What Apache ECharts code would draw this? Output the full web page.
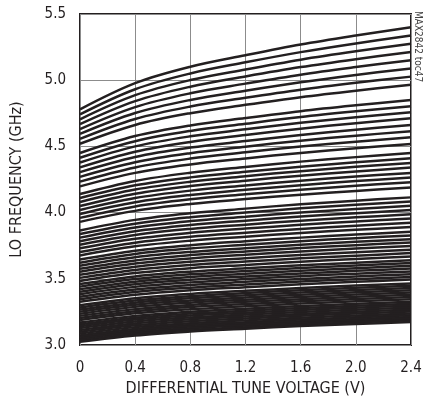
<!DOCTYPE html>
<html>
<head>
<meta charset="utf-8">
<script src="https://cdn.jsdelivr.net/npm/echarts@6/dist/echarts.min.js"></script>
<style>
html,body{margin:0;padding:0;background:#fff;}
#chart{width:425px;height:407px;}
</style>
</head>
<body>
<div id="chart"></div>
<script>
// Tune voltage sample points (V)
var tuneV = [0, 0.4, 0.8, 1.2, 1.6, 2.0, 2.4];
// LO frequency (GHz) of each VCO sub-band curve at each tune voltage
var fAt0 = [4.78,4.742,4.705,4.668,4.631,4.594,4.557,4.52,
  4.45,4.414,4.378,4.342,4.306,4.27,4.234,4.198,
  4.14,4.11,4.08,4.05,4.02,3.99,3.96,3.93,
  3.865,3.838,3.811,3.784,3.757,3.73,3.703,3.676,
  3.645,3.622,3.599,3.576,3.553,3.53,3.507,3.484,
  3.46,3.441,3.422,3.403,3.384,3.365,3.346,3.327,
  3.30,3.284,3.268,3.252,3.236,3.22,3.204,3.188,
  3.17,3.156,3.142,3.128,3.114,3.10,3.086,3.072,
  3.06,3.048,3.036,3.024];
var fAt04 = [4.978,4.932,4.887,4.842,4.797,4.752,4.707,4.662,
  4.578,4.539,4.50,4.46,4.42,4.38,4.341,4.30,
  4.239,4.206,4.174,4.143,4.11,4.078,4.046,4.013,
  3.945,3.916,3.888,3.859,3.831,3.802,3.773,3.745,
  3.712,3.688,3.663,3.639,3.615,3.591,3.567,3.543,
  3.518,3.498,3.478,3.459,3.439,3.419,3.40,3.38,
  3.353,3.336,3.32,3.304,3.288,3.271,3.255,3.239,
  3.22,3.206,3.192,3.177,3.163,3.149,3.135,3.121,
  3.108,3.096,3.084,3.072];
var fAt08 = [5.102,5.051,5.001,4.951,4.901,4.851,4.801,4.751,
  4.658,4.617,4.576,4.534,4.491,4.449,4.408,4.364,
  4.301,4.266,4.233,4.201,4.166,4.133,4.10,4.065,
  3.995,3.965,3.936,3.906,3.877,3.847,3.817,3.788,
  3.754,3.729,3.703,3.679,3.654,3.629,3.604,3.58,
  3.554,3.534,3.514,3.493,3.473,3.453,3.433,3.414,
  3.386,3.369,3.353,3.336,3.32,3.303,3.287,3.27,
  3.252,3.237,3.223,3.208,3.194,3.18,3.165,3.151,
  3.139,3.127,3.114,3.102];
var fAt12 = [5.189,5.135,5.081,5.028,4.974,4.921,4.867,4.814,
  4.714,4.671,4.629,4.586,4.54,4.498,4.455,4.409,
  4.345,4.308,4.275,4.241,4.205,4.172,4.138,4.102,
  4.03,4.0,3.969,3.939,3.909,3.879,3.848,3.818,
  3.784,3.757,3.731,3.707,3.682,3.655,3.63,3.605,
  3.579,3.558,3.538,3.518,3.498,3.477,3.457,3.437,
  3.409,3.392,3.376,3.359,3.342,3.326,3.309,3.292,
  3.274,3.259,3.244,3.23,3.215,3.201,3.186,3.172,
  3.16,3.148,3.135,3.123];
var fAt16 = [5.270,5.212,5.155,5.099,5.042,4.985,4.928,4.872,
  4.766,4.722,4.678,4.634,4.586,4.543,4.499,4.451,
  4.385,4.347,4.313,4.279,4.241,4.207,4.173,4.135,
  4.063,4.032,4.001,3.97,3.939,3.908,3.877,3.846,
  3.811,3.784,3.757,3.732,3.707,3.68,3.655,3.629,
  3.602,3.582,3.561,3.54,3.52,3.499,3.479,3.459,
  3.43,3.414,3.397,3.38,3.363,3.346,3.33,3.313,
  3.294,3.279,3.264,3.25,3.235,3.221,3.206,3.192,
  3.179,3.167,3.155,3.143];
var fAt20 = [5.338,5.278,5.218,5.159,5.099,5.04,4.98,4.921,
  4.81,4.765,4.72,4.675,4.626,4.581,4.536,4.486,
  4.419,4.38,4.346,4.311,4.272,4.238,4.203,4.164,
  4.09,4.059,4.027,3.996,3.964,3.933,3.901,3.87,
  3.834,3.807,3.779,3.754,3.729,3.701,3.675,3.65,
  3.622,3.601,3.58,3.56,3.539,3.518,3.497,3.477,
  3.449,3.432,3.415,3.398,3.381,3.364,3.347,3.33,
  3.311,3.296,3.282,3.267,3.252,3.238,3.223,3.209,
  3.196,3.184,3.171,3.159];
var fAt24 = [5.400,5.337,5.275,5.213,5.151,5.089,5.027,4.965,
  4.85,4.804,4.758,4.712,4.661,4.615,4.569,4.518,
  4.45,4.41,4.375,4.34,4.30,4.265,4.23,4.19,
  4.115,4.083,4.051,4.019,3.987,3.955,3.923,3.891,
  3.855,3.827,3.799,3.774,3.748,3.72,3.694,3.668,
  3.64,3.619,3.598,3.577,3.556,3.535,3.514,3.494,
  3.465,3.448,3.431,3.414,3.397,3.38,3.363,3.346,
  3.327,3.312,3.297,3.282,3.267,3.253,3.238,3.224,
  3.211,3.199,3.186,3.174];
var xTicks = ['0','0.4','0.8','1.2','1.6','2.0','2.4'];
var yTicks = ['3.0','3.5','4.0','4.5','5.0','5.5'];

var cols = [fAt0, fAt04, fAt08, fAt12, fAt16, fAt20, fAt24];
var INK = '#231f20';
var FONT = '"Liberation Sans Narrow","DejaVu Sans Condensed","Arial Narrow",sans-serif';
var series = [];
for (var i = 0; i < fAt0.length; i++) {
  var d = [];
  for (var j = 0; j < tuneV.length; j++) d.push([tuneV[j], cols[j][i]]);
  series.push({
    type: 'line', data: d, smooth: 0.35,
    showSymbol: false, symbol: 'none', silent: true,
    lineStyle: {color: INK, width: 2.5}, animation: false
  });
}

var chart = echarts.init(document.getElementById('chart'), null, {renderer: 'canvas'});
chart.setOption({
  backgroundColor: '#fff',
  animation: false,
  grid: {left: 80, top: 14, width: 331, height: 331, show: true,
    borderColor: INK, borderWidth: 2, backgroundColor: 'transparent'},
  xAxis: {
    type: 'value', min: 0, max: 2.4, interval: 0.4,
    name: 'DIFFERENTIAL TUNE VOLTAGE (V)', nameLocation: 'middle', nameGap: 35,
    nameTextStyle: {color: INK, fontFamily: FONT, fontSize: 16},
    axisLine: {show: false}, axisTick: {show: false},
    axisLabel: {color: INK, fontFamily: FONT, fontSize: 15, margin: 16,
      formatter: function (v) { var k = Math.round(v / 0.4); return xTicks[k]; }},
    splitLine: {show: true, lineStyle: {color: '#8c8c8c', width: 1}}
  },
  yAxis: {
    type: 'value', min: 3.0, max: 5.5, interval: 0.5,
    name: 'LO FREQUENCY (GHz)', nameLocation: 'middle', nameGap: 55,
    nameTextStyle: {color: INK, fontFamily: FONT, fontSize: 16},
    axisLine: {show: false}, axisTick: {show: false},
    axisLabel: {color: INK, fontFamily: FONT, fontSize: 15, margin: 14,
      formatter: function (v) { var k = Math.round((v - 3.0) / 0.5); return yTicks[k]; }},
    splitLine: {show: true, lineStyle: {color: '#8c8c8c', width: 1}}
  },
  graphic: [{
    type: 'text', x: 418, y: 11, rotation: -Math.PI / 2,
    style: {text: 'MAX2842 toc47', fill: '#444', font: '10px ' + FONT,
      textAlign: 'left', textVerticalAlign: 'middle'}
  }],
  series: series
});
</script>
</body>
</html>
